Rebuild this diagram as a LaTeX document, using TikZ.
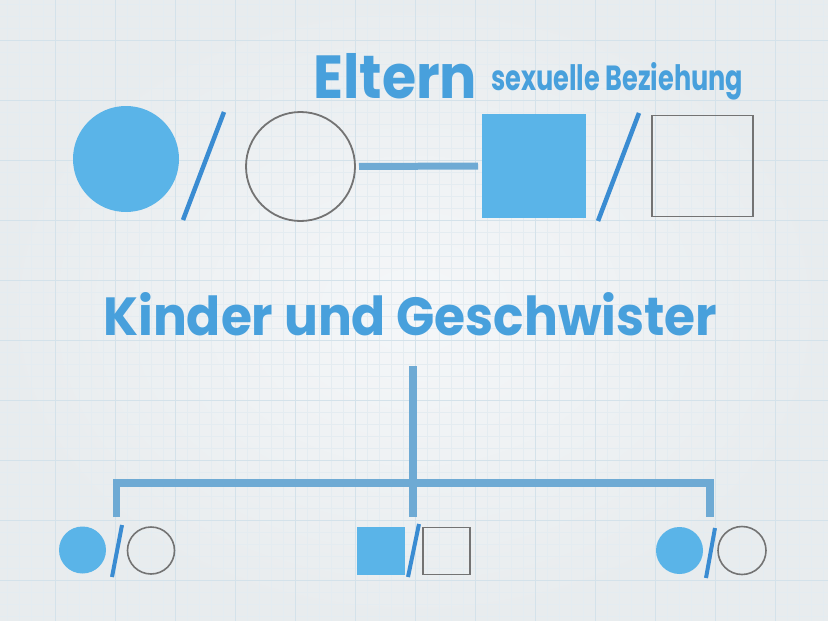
\documentclass[tikz,border=0pt]{standalone}
\usepackage{fontspec}
\usepackage{xcolor}
\usepackage{tikz}
\usetikzlibrary{positioning}
\newfontfamily\handfont{Poppins}
\definecolor{paperin}{RGB}{245,247,249}
\definecolor{paperout}{RGB}{232,236,238}
\definecolor{gridminor}{RGB}{228,236,241}
\definecolor{gridmajor}{RGB}{212,226,234}
\definecolor{inkblue}{RGB}{72,160,220}
\definecolor{shapeblue}{RGB}{90,180,232}
\definecolor{slashblue}{RGB}{58,140,210}
\definecolor{linkblue}{RGB}{110,170,212}
\definecolor{outlinegray}{RGB}{115,115,115}
\tikzset{
  fillcirc/.style={circle,fill=shapeblue,inner sep=0pt,outer sep=0pt},
  opencirc/.style={circle,draw=outlinegray,line width=1.8pt,inner sep=0pt,outer sep=0pt},
  fillbox/.style={rectangle,fill=shapeblue,inner sep=0pt,outer sep=0pt},
  openbox/.style={rectangle,draw=outlinegray,line width=1.8pt,inner sep=0pt,outer sep=0pt},
  slash/.style={draw=slashblue,line width=4.5pt},
  link/.style={draw=linkblue,line width=7.5pt},
  label/.style={text=inkblue,inner sep=0pt,anchor=base west}
}

\begin{document}
\begin{tikzpicture}[x=1pt,y=-1pt]
\useasboundingbox (0,0) rectangle (828,621);
\fill[inner color=paperin,outer color=paperout] (0,0) rectangle (828,621);
% paper grid
\foreach \x in {7,19,...,828} \draw[gridminor,line width=0.5pt] (\x,0) -- (\x,621);
\foreach \y in {4,16,...,621} \draw[gridminor,line width=0.5pt] (0,\y) -- (828,\y);
\foreach \x in {55,115,...,828} \draw[gridmajor,line width=0.8pt] (\x,0) -- (\x,621);
\foreach \y in {40,100,...,621} \draw[gridmajor,line width=0.8pt] (0,\y) -- (828,\y);

% Eltern
\node[label] (eltern) at (313,98) {\resizebox{164pt}{45pt}{\handfont\bfseries Eltern}};
\node[label] (bez) at (491,90) {\resizebox{252pt}{28pt}{\handfont\bfseries sexuelle Beziehung}};
\node[fillcirc,minimum size=106pt] (mother) at (126,159) {};
\draw[slash] (183,220) -- (224,112);
\node[opencirc,minimum size=109pt] (motherx) at (300.5,166.5) {};
\node[fillbox,minimum size=104pt] (father) at (534,166) {};
\draw[slash] (598,221) -- (639,113);
\node[openbox,minimum size=101pt] (fatherx) at (702.5,166) {};
\draw[link,line width=7pt,shorten <=4pt,shorten >=4pt] (motherx) -- (father);

% Kinder und Geschwister
\node[label] (kinder) at (103,335) {\resizebox{614pt}{43pt}{\handfont\bfseries Kinder und Geschwister}};
\coordinate (top) at (413,366);
\coordinate (hub) at (413,483);
\coordinate (drop1) at (116.5,517);
\coordinate (drop2) at (413,517);
\coordinate (drop3) at (710,517);
\draw[link] (top) -- (hub);
\draw[link,line join=miter] (drop1) |- (hub) -| (drop3);
\draw[link] (hub) -- (drop2);

\node[fillcirc,minimum size=47pt] (kid1) at (82.5,550) {};
\draw[slash,line width=4pt] (112,577) -- (122,525);
\node[opencirc,line width=1.6pt,minimum size=47pt] (kid1x) at (151,550.5) {};
\node[fillbox,minimum size=48pt] (kid2) at (381,551) {};
\draw[slash,line width=4pt] (408,577) -- (419,524);
\node[openbox,line width=1.6pt,minimum size=47pt] (kid2x) at (446.5,551) {};
\node[fillcirc,minimum size=47pt] (kid3) at (679.5,550.5) {};
\draw[slash,line width=4pt] (706,578) -- (715,528);
\node[opencirc,line width=1.6pt,minimum size=48pt] (kid3x) at (742,550.5) {};
\end{tikzpicture}
\end{document}
